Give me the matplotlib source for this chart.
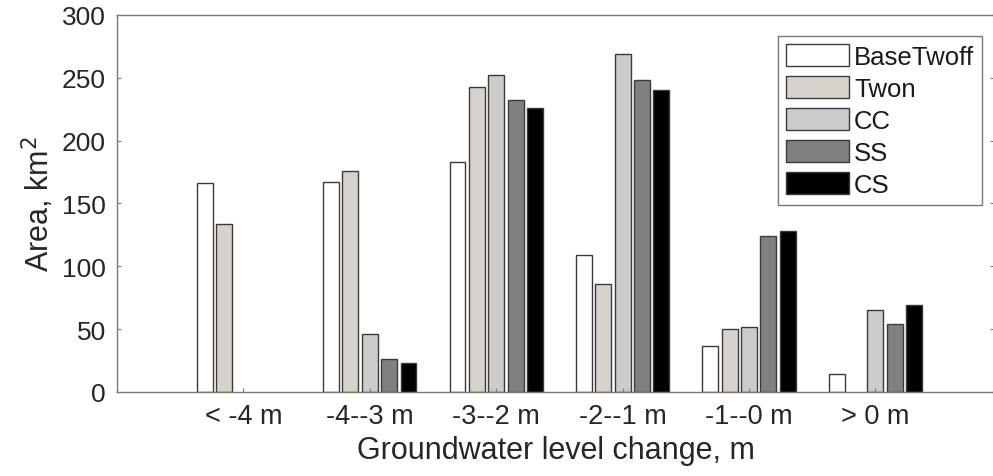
import numpy as np
import matplotlib
matplotlib.use("Agg")
import matplotlib.pyplot as plt

# ====== data ======
categories = ["< -4 m", "-4--3 m", "-3--2 m", "-2--1 m", "-1--0 m", "> 0 m"]
series_names = ["BaseTwoff", "Twon", "CC", "SS", "CS"]
base_twoff = [166, 167, 183, 109, 37, 14]
twon = [134, 176, 243, 86, 50, 0]
cc = [0, 46, 252, 269, 52, 65]
ss = [0, 26, 232, 248, 124, 54]
cs = [0, 23, 226, 240, 128, 69]
colors = ["#ffffff", "#d6d3cc", "#cccccc", "#808080", "#000000"]

plt.rcParams['font.family'] = ['Liberation Sans', 'DejaVu Sans']

fig = plt.figure(figsize=(9.93, 4.77), dpi=100)
ax = fig.add_axes([117 / 993, 1 - 393 / 477, (994 - 117) / 993, (393 - 16) / 477])

x = np.arange(1, len(categories) + 1)
step = 0.153
width = 0.126
all_series = [base_twoff, twon, cc, ss, cs]
for i, (name, vals, col) in enumerate(zip(series_names, all_series, colors)):
    vals = np.array(vals)
    keep = vals > 0  # empty classes draw nothing
    ax.bar(x[keep] + (i - 2) * step, vals[keep], width, color=col,
           edgecolor="#3a3a3a", linewidth=1.0, label=name)

ax.set_xlim(0, (994 - 117) / 126.4)
ax.set_ylim(0, 300)
ax.set_yticks(np.arange(0, 301, 50))
ax.set_xticks(x)
ax.set_xticklabels(categories, fontsize=19.5)
ax.tick_params(axis="y", labelsize=19)
ax.tick_params(direction="in", length=3, color="#777777", labelcolor="#262626",
               right=True, top=False, pad=8)
for sp in ax.spines.values():
    sp.set_color("#777777")
    sp.set_linewidth(1.0)

ax.set_xlabel("Groundwater level change, m", fontsize=22, color="#262626", labelpad=4)
ax.set_ylabel("Area, km$^2$", fontsize=22, color="#262626", labelpad=4)

leg = ax.legend(loc="upper right", bbox_to_anchor=(982 / 993, 1 - 37 / 477),
                bbox_transform=fig.transFigure, borderaxespad=0, fontsize=18.5,
                handlelength=2.45, handleheight=0.95, handletextpad=0.2,
                labelspacing=0.28, borderpad=0.3, fancybox=False, framealpha=1)
leg.get_frame().set_edgecolor("#777777")
leg.get_frame().set_linewidth(1.0)
for t in leg.get_texts():
    t.set_color("#1a1a1a")

fig.savefig("out.png", dpi=100)
